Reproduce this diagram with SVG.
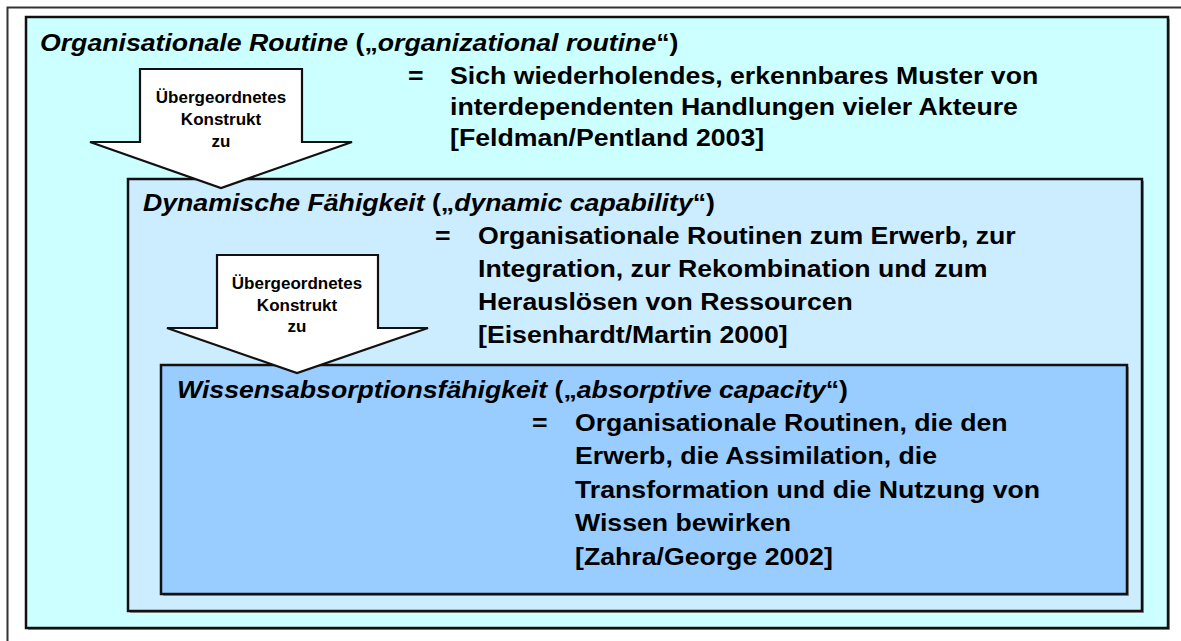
<svg xmlns="http://www.w3.org/2000/svg" width="1181" height="641" viewBox="0 0 1181 641">
  <style>
    .box { stroke: #111; stroke-width: 2.5; }
    .shadow { fill: #9a9a9a; }
    .arrow { fill: #fff; stroke: #111; stroke-width: 2.2; stroke-linejoin: miter; }
    .t { font-family: "Liberation Sans", Arial, sans-serif; font-weight: bold; font-size: 23px; fill: #000; }
    .it { font-style: italic; }
    .lbl { font-family: "Liberation Sans", Arial, sans-serif; font-weight: bold; font-size: 17px; fill: #000; text-anchor: middle; }
  </style>

  <!-- page background and frame -->
  <rect x="0" y="0" width="1181" height="641" fill="#fff"/>
  <rect x="7.5" y="7.5" width="1185" height="645" fill="none" stroke="#333" stroke-width="2"/>

  <!-- level 1: organisational routine -->
  <g id="routine">
    <rect class="shadow" x="28" y="19" width="1142" height="611"/>
    <rect class="box" x="26" y="17" width="1142" height="611" fill="#CCFFFF"/>
    <text class="t" transform="translate(40,51) scale(1.16,1)"><tspan class="it">Organisationale Routine</tspan> („<tspan class="it">organizational routine</tspan>“)</text>
    <text class="t" transform="translate(408,84) scale(1.16,1)">=</text>
    <text class="t" transform="translate(450,84) scale(1.16,1)">
      <tspan x="0" y="0">Sich wiederholendes, erkennbares Muster von</tspan>
      <tspan x="0" y="31">interdependenten Handlungen vieler Akteure</tspan>
      <tspan x="0" y="62">[Feldman/Pentland 2003]</tspan>
    </text>
  </g>

  <!-- level 2: dynamic capability -->
  <g id="dynamic">
    <rect class="shadow" x="130" y="181" width="1014" height="432"/>
    <rect class="box" x="128" y="179" width="1014" height="432" fill="#CCECFF"/>
    <text class="t" transform="translate(143,211) scale(1.16,1)"><tspan class="it">Dynamische Fähigkeit</tspan> („<tspan class="it">dynamic capability</tspan>“)</text>
    <text class="t" transform="translate(435,244) scale(1.16,1)">=</text>
    <text class="t" transform="translate(478,244) scale(1.16,1)">
      <tspan x="0" y="0">Organisationale Routinen zum Erwerb, zur</tspan>
      <tspan x="0" y="33">Integration, zur Rekombination und zum</tspan>
      <tspan x="0" y="66">Herauslösen von Ressourcen</tspan>
      <tspan x="0" y="99">[Eisenhardt/Martin 2000]</tspan>
    </text>
  </g>

  <!-- level 3: absorptive capacity -->
  <g id="absorptive">
    <rect class="shadow" x="163" y="367" width="966" height="229"/>
    <rect class="box" x="161" y="365" width="966" height="229" fill="#99CCFF"/>
    <text class="t" transform="translate(177,398) scale(1.16,1)"><tspan class="it">Wissensabsorptionsfähigkeit</tspan> („<tspan class="it">absorptive capacity</tspan>“)</text>
    <text class="t" transform="translate(532,431) scale(1.16,1)">=</text>
    <text class="t" transform="translate(575,431) scale(1.16,1)">
      <tspan x="0" y="0">Organisationale Routinen, die den</tspan>
      <tspan x="0" y="33.5">Erwerb, die Assimilation, die</tspan>
      <tspan x="0" y="67">Transformation und die Nutzung von</tspan>
      <tspan x="0" y="100.5">Wissen bewirken</tspan>
      <tspan x="0" y="134">[Zahra/George 2002]</tspan>
    </text>
  </g>

  <!-- block arrows between levels -->
  <g id="connectors">
    <g id="arrow-1">
      <polygon class="arrow" points="140,69 302,69 302,142 352,142 221,188 90,142 140,142"/>
      <text class="lbl" x="221" y="103">Übergeordnetes</text>
      <text class="lbl" x="221" y="125">Konstrukt</text>
      <text class="lbl" x="221" y="147">zu</text>
    </g>
    <g id="arrow-2">
      <polygon class="arrow" points="217,255 378,255 378,328 428,328 297,373 167,328 217,328"/>
      <text class="lbl" x="297" y="289">Übergeordnetes</text>
      <text class="lbl" x="297" y="311">Konstrukt</text>
      <text class="lbl" x="297" y="332">zu</text>
    </g>
  </g>
</svg>
